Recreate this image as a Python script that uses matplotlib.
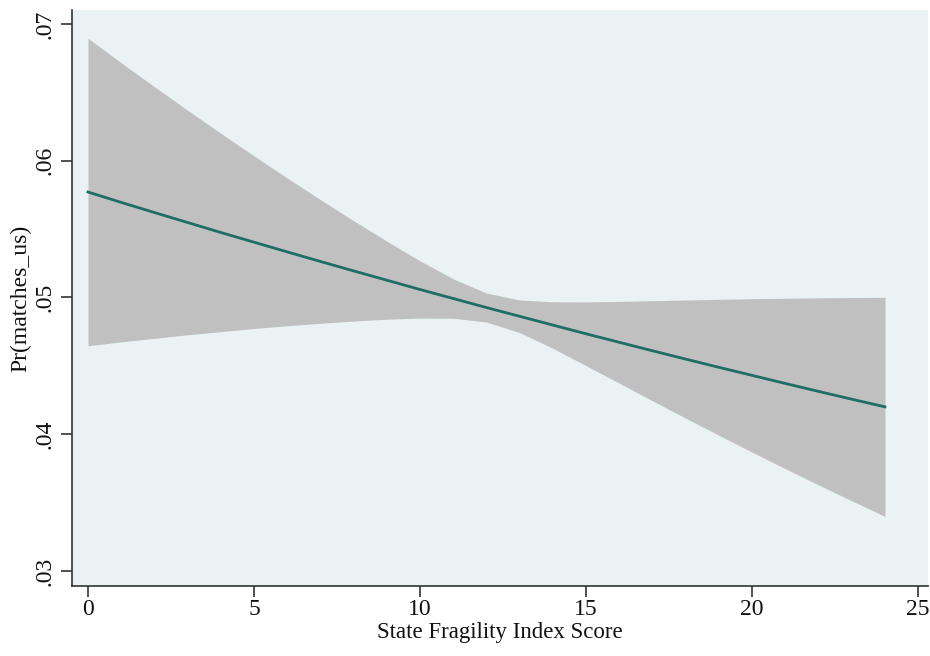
import numpy as np
import matplotlib.pyplot as plt

# predicted probabilities with 95% CI
fragility = list(range(0, 25))
pr_match = [0.05771, 0.05695, 0.05621, 0.05548, 0.05475, 0.05404, 0.05333,
            0.05263, 0.05194, 0.05126, 0.05058, 0.04992, 0.04926, 0.04862,
            0.04798, 0.04734, 0.04672, 0.04610, 0.04549, 0.04489, 0.04430,
            0.04371, 0.04313, 0.04256, 0.04200]
ci_upper = [0.06895, 0.06716, 0.06541, 0.06369, 0.06200, 0.06035, 0.05873,
            0.05715, 0.05561, 0.05411, 0.05267, 0.05136, 0.05032, 0.04981,
            0.04968, 0.04967, 0.04971, 0.04976, 0.04981, 0.04986, 0.04991,
            0.04994, 0.04997, 0.04999, 0.05001]
ci_lower = [0.04647, 0.04675, 0.04701, 0.04727, 0.04750, 0.04773, 0.04793,
            0.04811, 0.04827, 0.04841, 0.04849, 0.04848, 0.04820, 0.04743,
            0.04628, 0.04501, 0.04373, 0.04244, 0.04117, 0.03992, 0.03869,
            0.03748, 0.03629, 0.03513, 0.03399]
x_ticks = [0, 5, 10, 15, 20, 25]
y_ticks = [0.03, 0.04, 0.05, 0.06, 0.07]
y_tick_labels = [".03", ".04", ".05", ".06", ".07"]

plt.rcParams['font.family'] = ['Liberation Serif', 'DejaVu Serif']

fig = plt.figure(figsize=(9.3, 6.56), dpi=100)
ax = fig.add_axes([0.0774, 0.1067, 0.9206, 0.8781])
ax.set_facecolor('#eaf2f3')

ax.fill_between(fragility, ci_lower, ci_upper, color='#c0c0c0', linewidth=0)
ax.plot(fragility, pr_match, color='#1f6e66', linewidth=2)

ax.set_xlim(-0.482, 25.3)
ax.set_ylim(0.0289, 0.07102)
ax.set_xticks(x_ticks)
ax.set_yticks(y_ticks)
ax.set_yticklabels(y_tick_labels, rotation=90, va='center')

for side in ['top', 'right']:
    ax.spines[side].set_visible(False)
for side in ['left', 'bottom']:
    ax.spines[side].set_color('#333333')
    ax.spines[side].set_linewidth(1.2)

ax.tick_params(axis='both', direction='out', length=8, width=1.2,
               color='#333333', labelsize=17, labelcolor='#111111')
ax.tick_params(axis='x', pad=1)
ax.tick_params(axis='y', pad=4)

ax.set_xlabel("State Fragility Index Score", fontsize=16.5, labelpad=2, color='#111111')
ax.set_ylabel("Pr(matches_us)", fontsize=17, labelpad=2, color='#111111')

fig.savefig('out.png', dpi=100)
